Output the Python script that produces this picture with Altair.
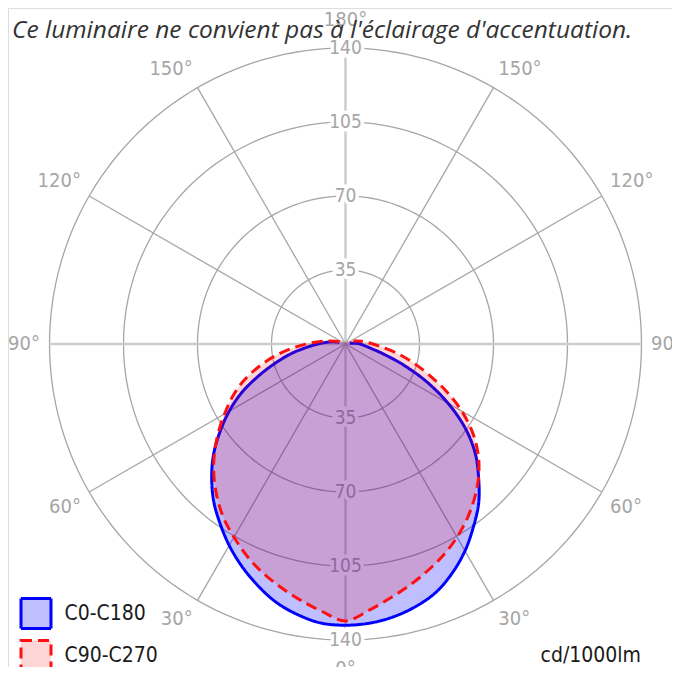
import altair as alt
import pandas as pd

TITLE = "Ce luminaire ne convient pas à l'éclairage d'accentuation."
UNIT = "cd/1000lm"
SERIES = ["C0-C180", "C90-C270"]

RINGS = [35, 70, 105, 140]
SPOKES = [30, 60, 120, 150, 210, 240, 300, 330]
MAIN_AXES = [0, 90, 180, 270]
ANGLE_TICKS = [0, 30, 60, 90, 120, 150, 180]

# luminous intensity (cd/1000lm) vs gamma angle
GAMMA_C0 = [0, 5, 10, 15, 20, 25, 30, 35, 40, 45, 50, 55, 60, 65, 70, 75, 80, 85, 90, 95, 100]
C0 = [133, 132.5, 131, 128.5, 125, 119.5, 113, 105.5, 98, 89, 80, 69, 56, 42.5, 29.5, 19, 12.5, 9, 7, 4.5, 2]
GAMMA_C180 = [0, 5, 10, 15, 20, 25, 30, 35, 40, 45, 50, 55, 60, 65, 70, 75, 80, 85, 90, 95, 100, 105]
C180 = [133, 132.5, 130, 126.5, 121.5, 116, 110, 103.5, 97, 89.5, 81.5, 72.5, 63.5, 54, 43.5, 34, 26, 18.5, 13, 9, 6, 3]
GAMMA_C90 = [0, 5, 10, 15, 20, 25, 30, 35, 40, 45, 50, 55, 60, 65, 70, 75, 80, 85, 90, 95, 100, 105, 110]
C90 = [131, 126.5, 122, 118, 114, 110, 105.5, 100.5, 95, 89, 82, 73.5, 63.5, 52.5, 41.5, 32.5, 24.5, 17.5, 13, 10, 7.5, 5.5, 4]
GAMMA_C270 = [0, 5, 10, 15, 20, 25, 30, 35, 40, 45, 50, 55, 60, 65, 70, 75, 80, 85, 90, 95, 100, 105, 110]
C270 = [131, 127, 123, 119, 115, 110.5, 105.5, 100.5, 94.5, 88, 81, 73.5, 66, 59, 51.5, 43, 34.5, 26, 18.5, 12.5, 8, 5, 3]

# ---- layout ----
W, H = 664, 659
CX, CY = 337.5, 336.0          # pole position inside the plot area (px)
UPP = 140 / 296                # data units per pixel
LABEL_R = 144.5                # anchor radius of the angle labels (data units)
XDOM = [-CX * UPP, (W - CX) * UPP]
YDOM = [-(H - CY) * UPP, CY * UPP]
xs = alt.Scale(domain=XDOM, nice=False, zero=False)
ys = alt.Scale(domain=YDOM, nice=False, zero=False)
GREY = "#a6a6a6"
LABEL_FONT = "DejaVu Sans Condensed"

# ---- tables ----
rows = []
for name, (gr, vr), (gl, vl) in [
    (SERIES[0], (GAMMA_C0, C0), (GAMMA_C180, C180)),
    (SERIES[1], (GAMMA_C90, C90), (GAMMA_C270, C270)),
]:
    for g, v in zip(gl[::-1], vl[::-1]):
        if g > 0:
            rows.append({"series": name, "phi": -g, "cd": v})
    for g, v in zip(gr, vr):
        rows.append({"series": name, "phi": g, "cd": v})
curves = pd.DataFrame(rows)

ring_df = pd.DataFrame([{"r": r, "deg": d} for r in RINGS for d in range(0, 361, 2)])
spoke_df = pd.DataFrame({"deg": SPOKES, "r": max(RINGS)})
axes_df = pd.DataFrame({"deg": MAIN_AXES, "r": max(RINGS)})
ring_lab = pd.DataFrame([{"r": r, "side": s, "txt": str(r)} for r in RINGS for s in (1, -1)])
ang_rows = []
for a in ANGLE_TICKS:
    for s in ((1,) if a in (0, 180) else (1, -1)):
        ang_rows.append({"phi": a * s, "txt": f"{a}°", "r": LABEL_R})
ang_lab = pd.DataFrame(ang_rows)

X = lambda f: alt.X(f, type="quantitative", scale=xs, axis=None)
Y = lambda f: alt.Y(f, type="quantitative", scale=ys, axis=None)

rings = alt.Chart(ring_df).transform_calculate(
    px="datum.r * sin(datum.deg * PI / 180)",
    py="datum.r * cos(datum.deg * PI / 180)",
).mark_line(stroke=GREY, strokeWidth=1.3).encode(
    x=X("px"), y=Y("py"), detail="r:N", order="deg:Q"
)

def spoke_layer(df, color, width):
    return alt.Chart(df).transform_calculate(
        x0="0", y0="0",
        x1="datum.r * sin(datum.deg * PI / 180)",
        y1="-datum.r * cos(datum.deg * PI / 180)",
    ).mark_rule(stroke=color, strokeWidth=width).encode(
        x=X("x0"), y=Y("y0"), x2="x1:Q", y2="y1:Q"
    )

axes_lines = spoke_layer(axes_df, "#cdcdcd", 2.5)
spokes = spoke_layer(spoke_df, GREY, 1.3)

ring_base = alt.Chart(ring_lab).transform_calculate(
    px="0", py="datum.r * datum.side"
).encode(x=X("px"), y=Y("py"), text="txt:N")
ring_halo = ring_base.mark_text(font=LABEL_FONT, fontSize=19, stroke="white",
                                strokeWidth=7, fill="white")
ring_text = ring_base.mark_text(font=LABEL_FONT, fontSize=19, color=GREY)

ang_text = alt.Chart(ang_lab).transform_calculate(
    px="datum.r * sin(datum.phi * PI / 180)",
    py="-datum.r * cos(datum.phi * PI / 180)",
).mark_text(
    font=LABEL_FONT, fontSize=20, color=GREY,
    align=alt.ExprRef("datum.phi == 0 || datum.phi == 180 ? 'center' : (datum.phi < 0 ? 'right' : 'left')"),
    baseline=alt.ExprRef("abs(datum.phi) == 90 ? 'middle' : (abs(datum.phi) > 90 ? 'bottom' : 'top')"),
    dy=alt.ExprRef("datum.phi == 0 ? 9 : (datum.phi == 180 ? -8 : 0)"),
).encode(x=X("px"), y=Y("py"), text="txt:N")

leg = alt.Legend(
    title=None, orient="none", legendX=11.5, legendY=589,
    symbolType="square", symbolSize=900, symbolStrokeWidth=3,
    labelFont=LABEL_FONT, labelFontSize=21, labelColor="#1a1a1a",
    rowPadding=-1, labelOffset=12,
)
curve_layer = alt.Chart(curves).transform_calculate(
    px="datum.cd * sin(datum.phi * PI / 180)",
    py="-datum.cd * cos(datum.phi * PI / 180)",
).mark_line(interpolate="cardinal", strokeWidth=3).encode(
    x=X("px"), y=Y("py"), order="phi:Q",
    stroke=alt.Stroke("series:N", scale=alt.Scale(domain=SERIES, range=["#0000ff", "#ff1010"]), legend=leg),
    fill=alt.Fill("series:N", scale=alt.Scale(domain=SERIES, range=["rgba(0,0,255,0.25)", "rgba(255,0,0,0.16)"]), legend=leg),
    strokeDash=alt.StrokeDash("series:N", scale=alt.Scale(domain=SERIES, range=[[1, 0], [11, 6]]), legend=leg),
)

title = alt.Chart(pd.DataFrame({"t": [TITLE]})).mark_text(
    align="left", baseline="alphabetic", font="Open Sans", fontStyle="italic",
    fontSize=24.5, color="#333333",
).encode(x=alt.value(4), y=alt.value(29.5), text="t:N")

unit = alt.Chart(pd.DataFrame({"t": [UNIT]})).mark_text(
    align="right", baseline="middle", font=LABEL_FONT, fontSize=21, color="#1a1a1a",
).encode(x=alt.value(633), y=alt.value(648), text="t:N")

chart = alt.layer(
    rings, axes_lines, spokes, ring_halo, ring_text, ang_text, curve_layer, title, unit
).properties(
    width=W, height=H, autosize=alt.AutoSizeParams(type="none"), padding=0
).configure_view(stroke=None).configure(background="white")

chart.save("out.html", embed_options={"renderer": "svg", "actions": False})
